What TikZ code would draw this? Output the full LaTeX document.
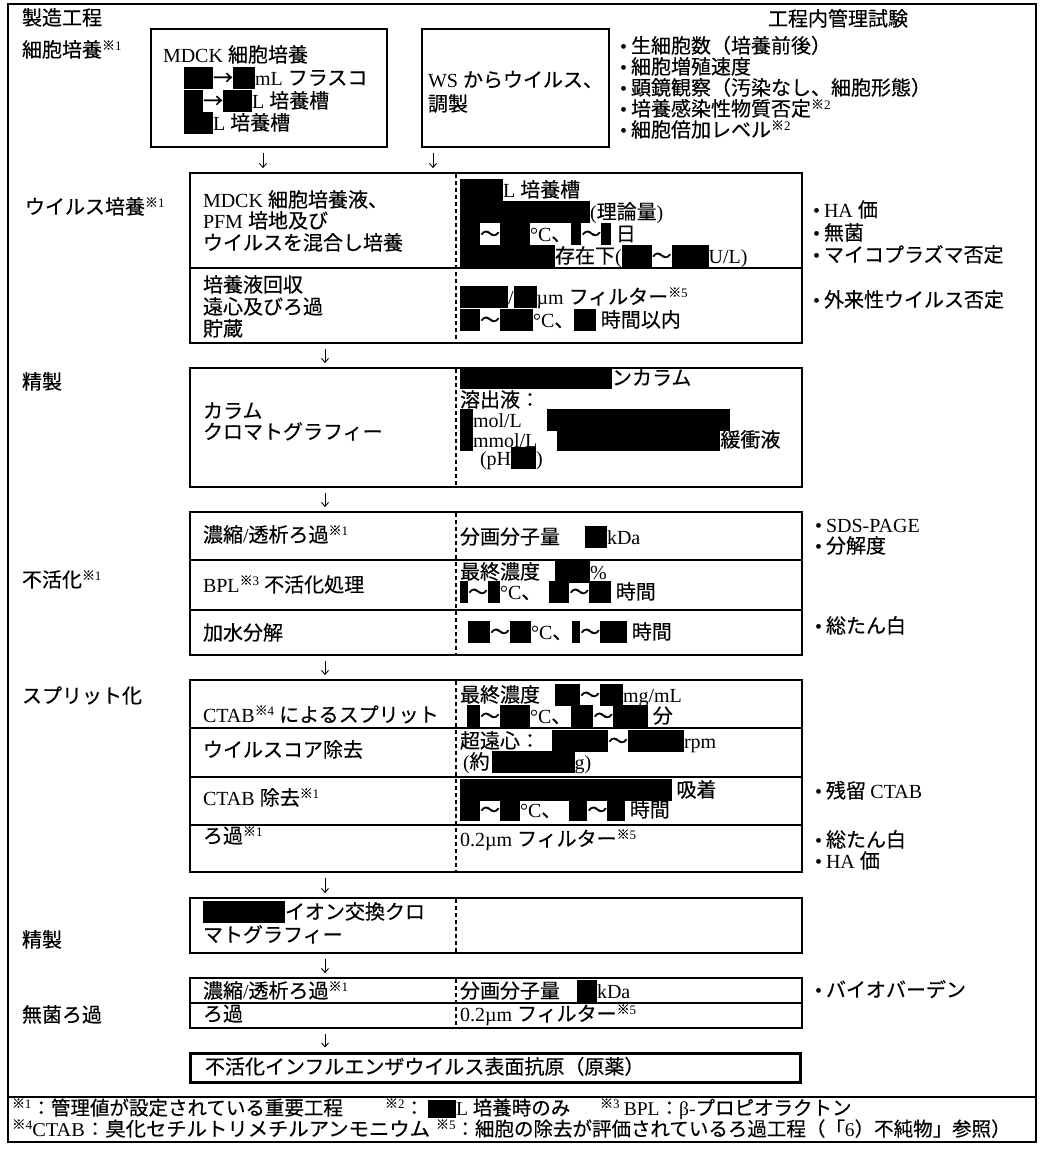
\documentclass[tikz,border=0pt]{standalone}
\usepackage{fontspec}
\usepackage{graphicx}
\setmainfont{Liberation Serif}
\newfontfamily\cjk{Noto Sans CJK JP}[UprightFeatures={FakeBold=0.35}]
\usetikzlibrary{fit,arrows.meta}
\XeTeXinterchartokenstate=1
\chardef\CJKcls=200
\newcount\cjkc
\def\setcjkrange#1#2{\cjkc=#1\relax
  \loop\XeTeXcharclass\cjkc=\CJKcls\relax
  \ifnum\cjkc<#2\relax\advance\cjkc by 1\relax\repeat}
\setcjkrange{"2190}{"21FF}
\setcjkrange{"3000}{"30FF}
\setcjkrange{"4E00}{"9FFF}
\setcjkrange{"FF00}{"FFEF}
\XeTeXcharclass"203B=\CJKcls
\XeTeXinterchartoks 0 \CJKcls = {\cjk}
\XeTeXinterchartoks 4095 \CJKcls = {\cjk}
\XeTeXinterchartoks \CJKcls 0 = {\rmfamily}
\XeTeXinterchartoks 4095 0 = {\rmfamily}
\newcommand\bx[1]{\rule[-4pt]{#1pt}{22pt}}
\newcommand\fbx[1]{\rule[-3pt]{#1pt}{18pt}}
\newcommand\nt[1]{\raisebox{7pt}{\fontsize{13}{13}\selectfont ※#1}}
\newcommand\T[4]{\node[txt] (#1) at (#2,#3) {#4};}
\newcommand\F[4]{\node[fn] (#1) at (#2,#3) {#4};}
\tikzset{
  txt/.style={anchor=base west, inner sep=0pt, outer sep=0pt, font=\fontsize{20}{22}\selectfont\cjk},
  fn/.style={anchor=base west, inner sep=0pt, outer sep=0pt, font=\fontsize{19.5}{20}\selectfont\cjk},
  boxst/.style={draw, line width=1.8pt, inner sep=0pt, rectangle},
  boxthick/.style={draw, line width=2.2pt, inner sep=0pt, rectangle},
  boxfinal/.style={draw, line width=3pt, inner sep=0pt, rectangle},
  rowline/.style={line width=1.4pt},
  dsh/.style={line width=1.6pt, dash pattern=on 4pt off 3pt},
  frame/.style={line width=1.2pt},
  arr/.style={-{Straight Barb[length=4pt,width=7pt]}, line width=0.9pt, shorten <=5pt, shorten >=4pt}
}
\begin{document}
\begin{tikzpicture}[x=1pt,y=-1pt]
\useasboundingbox (0,0) rectangle (1039,1154);
\fill[white] (0,0) rectangle (1039,1154);
% outer frame
\draw[frame] (8,4) rectangle (1036,1142);
\draw[frame] (8,1097) -- (1036,1097);
% boxes
\node[boxthick, fit={(151,29) (387,147)}] (bA) {};
\node[boxthick, fit={(422,29) (609,147)}] (bB) {};
\node[boxst, fit={(190,173) (802,343)}] (bC) {};
\node[boxst, fit={(190,368) (802,487)}] (bD) {};
\node[boxst, fit={(190,512) (802,655)}] (bE) {};
\node[boxst, fit={(190,680) (802,872)}] (bF) {};
\node[boxst, fit={(190,898) (802,953)}] (bG) {};
\node[boxst, fit={(190,978) (802,1028)}] (bH) {};
\node[boxfinal, fit={(190,1053) (800,1082)}] (bI) {};
% row lines
\draw[rowline] (190,268) -- (802,268);
\draw[rowline] (190,560) -- (802,560);
\draw[rowline] (190,610) -- (802,610);
\draw[rowline] (190,728) -- (802,728);
\draw[rowline] (190,777) -- (802,777);
\draw[rowline] (190,825) -- (802,825);
\draw[rowline] (190,1003) -- (802,1003);
% dashed dividers
\draw[dsh] (456,174) -- (456,342);
\draw[dsh] (456,369) -- (456,486);
\draw[dsh] (456,513) -- (456,654);
\draw[dsh] (456,681) -- (456,871);
\draw[dsh] (456,899) -- (456,952);
\draw[dsh] (456,979) -- (456,1027);
% arrows
\coordinate (xa) at (263,0);
\coordinate (xb) at (433,0);
\coordinate (xm) at (325,0);
\draw[arr] (xa |- bA.south) -- (xa |- bC.north);
\draw[arr] (xb |- bB.south) -- (xb |- bC.north);
\draw[arr] (xm |- bC.south) -- (xm |- bD.north);
\draw[arr] (xm |- bD.south) -- (xm |- bE.north);
\draw[arr] (xm |- bE.south) -- (xm |- bF.north);
\draw[arr] (xm |- bF.south) -- (xm |- bG.north);
\draw[arr] (xm |- bG.south) -- (xm |- bH.north);
\draw[arr] (xm |- bH.south) -- (xm |- bI.north);
% headers
\T{hdA}{22}{25}{製造工程}
\T{hdB}{768}{26}{工程内管理試験}
% left labels
\T{lbA}{22}{57}{細胞培養\nt{1}}
\T{lbB}{25}{214}{ウイルス培養\nt{1}}
\T{lbC}{22}{389}{精製}
\T{lbD}{22}{587}{不活化\nt{1}}
\T{lbE}{22}{703}{スプリット化}
\T{lbF}{22}{947}{精製}
\T{lbG}{22}{1022}{無菌ろ過}
% box A
\T{a1}{163}{62}{MDCK 細胞培養}
\T{a2}{184}{85}{\bx{29}→\bx{22}mL フラスコ}
\T{a3}{184}{108}{\bx{19}→\bx{29}L 培養槽}
\T{a4}{184}{130}{\bx{29}L 培養槽}
% box B
\T{b1}{428}{87}{WS からウイルス、}
\T{b2}{428}{111}{調製}
% top tests
\T{q1}{620}{53}{•\hspace{4pt}生細胞数（培養前後）}
\T{q2}{620}{74}{•\hspace{4pt}細胞増殖速度}
\T{q3}{620}{95}{•\hspace{4pt}顕鏡観察（汚染なし、細胞形態）}
\T{q4}{620}{116}{•\hspace{4pt}培養感染性物質否定\nt{2}}
\T{q5}{620}{137}{•\hspace{4pt}細胞倍加レベル\nt{2}}
% box C
\T{c1}{203}{207}{MDCK 細胞培養液、}
\T{c2}{203}{228}{PFM 培地及び}
\T{c3}{203}{250}{ウイルスを混合し培養}
\T{c4}{203}{292}{培養液回収}
\T{c5}{203}{314}{遠心及びろ過}
\T{c6}{203}{336}{貯蔵}
\T{c7}{460}{197}{\bx{43}L 培養槽}
\T{c8}{460}{219}{\bx{130}(理論量)}
\T{c9}{460}{241}{\bx{20}～\bx{30}°C、\bx{10}～\bx{10} 日}
\T{c10}{460}{263}{\bx{95}存在下(\bx{30}～\bx{37}U/L)}
\T{c11}{460}{304}{\bx{48}/\bx{23}µm フィルター\nt{5}}
\T{c12}{460}{327}{\bx{20}～\bx{33}°C、\bx{22} 時間以内}
\T{r1}{813}{217}{•\hspace{4pt}HA 価}
\T{r2}{813}{240}{•\hspace{4pt}無菌}
\T{r3}{813}{262}{•\hspace{4pt}マイコプラズマ否定}
\T{r4}{813}{307}{•\hspace{4pt}外来性ウイルス否定}
% box D
\T{d1}{203}{418}{カラム}
\T{d2}{203}{439}{クロマトグラフィー}
\T{d3}{460}{385}{\bx{152}ンカラム}
\T{d4}{460}{407}{溶出液：}
\T{d5}{460}{427}{\bx{13}mol/L\hspace{25pt}\bx{183}}
\T{d6}{460}{447}{\bx{13}mmol/L\hspace{20pt}\bx{163}緩衝液}
\T{d7}{460}{465}{\hspace{20pt}(pH\bx{25})}
% box E
\T{e1}{203}{542}{濃縮/透析ろ過\nt{1}}
\T{e2}{460}{544}{分画分子量\hspace{25pt}\bx{22}kDa}
\T{e3}{203}{592}{BPL\nt{3} 不活化処理}
\T{e4}{460}{579}{最終濃度\hspace{15pt}\bx{35}\%}
\T{e5}{460}{599}{\bx{8}～\bx{12}°C、\hspace{8pt}\bx{20}～\bx{22} 時間}
\T{e6}{203}{640}{加水分解}
\T{e7}{468}{639}{\bx{22}～\bx{21}°C、\bx{8}～\bx{27} 時間}
\T{r5}{815}{532}{•\hspace{4pt}SDS-PAGE}
\T{r6}{815}{553}{•\hspace{4pt}分解度}
\T{r7}{815}{633}{•\hspace{4pt}総たん白}
% box F
\T{f1}{203}{722}{CTAB\nt{4} によるスプリット}
\T{f2}{460}{702}{最終濃度\hspace{15pt}\bx{25}～\bx{23}mg/mL}
\T{f3}{467}{723}{\bx{13}～\bx{30}°C、\bx{22}～\bx{35} 分}
\T{f4}{203}{757}{ウイルスコア除去}
\T{f5}{460}{748}{超遠心：\hspace{12pt}\bx{56}～\bx{56}rpm}
\T{f6}{463}{769}{(約\hspace{2pt}\bx{83}g)}
\T{f7}{203}{805}{CTAB 除去\nt{1}}
\T{f8}{460}{797}{\bx{212} 吸着}
\T{f9}{460}{817}{\bx{20}～\bx{20}°C、\hspace{8pt}\bx{18}～\bx{18} 時間}
\T{f10}{203}{843}{ろ過\nt{1}}
\T{f11}{460}{846}{0.2µm フィルター\nt{5}}
\T{r8}{815}{798}{•\hspace{4pt}残留 CTAB}
\T{r9}{815}{847}{•\hspace{4pt}総たん白}
\T{r10}{815}{868}{•\hspace{4pt}HA 価}
% box G
\T{g1}{203}{919}{\bx{82}イオン交換クロ}
\T{g2}{203}{942}{マトグラフィー}
% box H
\T{h1}{203}{998}{濃縮/透析ろ過\nt{1}}
\T{h2}{460}{998}{分画分子量\hspace{17pt}\bx{20}kDa}
\T{h3}{203}{1021}{ろ過}
\T{h4}{460}{1021}{0.2µm フィルター\nt{5}}
\T{r11}{815}{997}{•\hspace{4pt}バイオバーデン}
% box I
\T{i1}{205}{1074}{不活化インフルエンザウイルス表面抗原（原薬）}
% footnotes
\F{n1}{12}{1115}{\nt{1}：管理値が設定されている重要工程}
\F{n2}{385}{1115}{\nt{2}：\hspace{4pt}\fbx{28}L 培養時のみ}
\F{n3}{600}{1115}{\nt{3} BPL：β-プロピオラクトン}
\F{n4}{12}{1136}{\resizebox{418pt}{\height}{\nt{4}CTAB：臭化セチルトリメチルアンモニウム}}
\F{n5}{436}{1136}{\nt{5}：細胞の除去が評価されているろ過工程（「6）不純物」参照）}
\end{tikzpicture}
\end{document}
